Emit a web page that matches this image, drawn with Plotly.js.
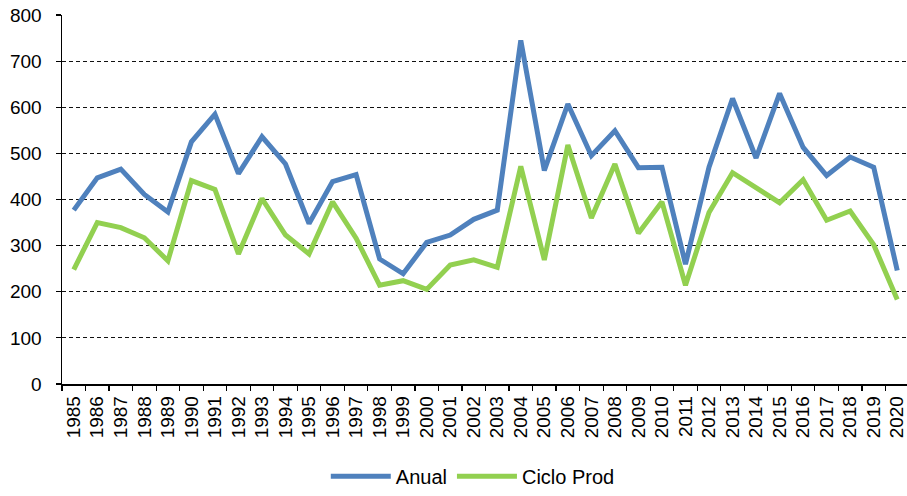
<!DOCTYPE html>
<html>
<head>
<meta charset="utf-8">
<script src="https://cdn.plot.ly/plotly-3.0.1.min.js"></script>
<style>html,body{margin:0;padding:0;background:#fff;overflow:hidden;}#chart{width:909px;height:496px;}</style>
</head>
<body>
<div id="chart"></div>
<script>
const years = ["1985","1986","1987","1988","1989","1990","1991","1992","1993","1994","1995","1996","1997","1998","1999","2000","2001","2002","2003","2004","2005","2006","2007","2008","2009","2010","2011","2012","2013","2014","2015","2016","2017","2018","2019","2020"];
const anual = [377,447,466,411,373,525,585,456,536,477,348,439,454,271,239,307,323,357,377,745,463,607,495,549,469,470,260,470,619,490,630,513,452,492,470,246];
const cicloProd = [248,350,339,317,267,441,422,282,402,323,282,395,316,214,224,205,258,269,253,472,269,518,360,477,327,395,214,372,458,425,393,443,355,375,302,183];

const tickFont = {family: "Liberation Sans, Arial, sans-serif", size: 19, color: "#000"};
const legendFont = {family: "Liberation Sans, Arial, sans-serif", size: 20, color: "#000"};

const traces = [
  {x: years, y: anual, name: "Anual", type: "scatter", mode: "lines",
   line: {color: "#4F81BD", width: 5, shape: "linear"}},
  {x: years, y: cicloProd, name: "Ciclo Prod", type: "scatter", mode: "lines",
   line: {color: "#92D050", width: 5, shape: "linear"}}
];

const layout = {
  width: 909, height: 496,
  margin: {l: 62, r: 0, t: 15, b: 109},
  paper_bgcolor: "#fff", plot_bgcolor: "#fff",
  font: tickFont,
  showlegend: true,
  legend: {orientation: "h", x: 0.485, xanchor: "center", y: -0.25, yanchor: "middle",
           font: legendFont, itemwidth: 60, traceorder: "normal"},
  xaxis: {type: "category", range: [-0.5, years.length - 0.5], tickangle: -90, tickson: "boundaries", ticks: "outside",
          ticklen: 5, tickcolor: "#000", tickwidth: 1.2, showline: true, linecolor: "#000", linewidth: 1.5,
          showgrid: false, tickfont: tickFont, fixedrange: true, ticklabelstandoff: 3},
  yaxis: {range: [0, 800], dtick: 100, tick0: 0, ticks: "outside", ticklen: 5, tickcolor: "#000", tickwidth: 1.2,
          showline: true, linecolor: "#000", linewidth: 1.5,
          showgrid: true, gridcolor: "#111", griddash: "4px,3px", gridwidth: 1,
          zeroline: false, tickfont: tickFont, fixedrange: true, ticklabelstandoff: 10}
};

Plotly.newPlot("chart", traces, layout, {displayModeBar: false, staticPlot: true});
</script>
</body>
</html>
